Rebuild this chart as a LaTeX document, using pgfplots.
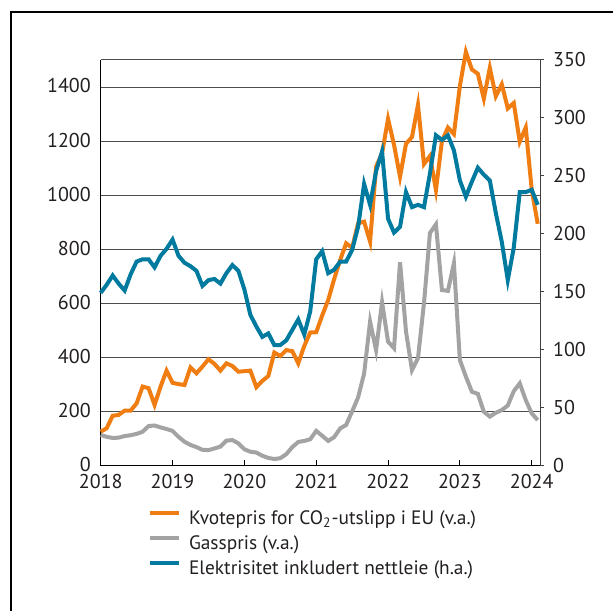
\documentclass[border=0pt]{standalone}
\usepackage{fontspec}
\setmainfont{PT Sans}
\usepackage{pgfplots}
\usepackage{pgfplotstable}
\pgfplotsset{compat=1.18}
\definecolor{co2}{RGB}{240,125,18}
\definecolor{gas}{RGB}{163,163,163}
\definecolor{el}{RGB}{0,122,158}
\definecolor{txt}{RGB}{35,31,32}
\pgfplotstableread{
m co2 gas el
0 125 113 149
1 138 106 156
2 184 102 164
3 187 103 157
4 203 109 151
5 203 112 165
6 230 117 176
7 292 125 178
8 286 146 178
9 224 148 171
10 292 141 181
11 351 135 187
12 306 128 195
13 301 106 181
14 298 88 175
15 363 76 172
16 341 68 168
17 366 58 155
18 393 57 160
19 376 63 161
20 351 70 157
21 378 92 166
22 368 94 173
23 347 82 168
24 349 60 152
25 351 51 130
26 290 48 120
27 313 36 111
28 331 28 114
29 418 24 104
30 405 27 104
31 427 42 108
32 423 68 117
33 378 87 126
34 442 91 113
35 492 97 133
36 493 128 178
37 555 110 185
38 612 91 166
39 690 105 169
40 760 137 176
41 822 150 176
42 805 200 186
43 896 252 206
44 902 340 243
45 828 532 225
46 1105 427 254
47 1155 604 271
48 1282 458 213
49 1186 434 201
50 1068 752 206
51 1190 495 236
52 1215 353 223
53 1334 397 225
54 1115 600 223
55 1145 860 252
56 1019 892 285
57 1200 649 281
58 1250 646 285
59 1226 748 272
60 1404 390 246
61 1530 329 232
62 1465 273 245
63 1449 265 257
64 1357 199 251
65 1471 181 246
66 1366 195 218
67 1410 205 193
68 1321 222 160
69 1341 275 188
70 1198 304 236
71 1250 242 236
72 1020 193 238
73 894 168 225
}\datatable
\begin{document}
\fontsize{10pt}{12pt}\selectfont
\begin{tikzpicture}
\useasboundingbox (-50.35pt,-72.25pt) rectangle (256.15pt,232.75pt);
\draw[line width=1pt,black] (-44.85pt,-90pt) -- (-44.85pt,226.5pt) -- (280pt,226.5pt);
\begin{axis}[
  at={(0pt,0pt)}, anchor=south west,
  scale only axis, width=220pt, height=202.75pt,
  xmin=0, xmax=73.5, ymin=0, ymax=1500,
  clip=false,
  axis x line*=bottom, axis y line*=left,
  axis line style={black, line width=0.6pt},
  xtick={0,12,...,72},
  xticklabels={2018,2019,2020,2021,2022,2023,2024},
  ytick={0,200,...,1400},
  extra y ticks={1500}, extra y tick labels={},
  extra y tick style={grid=major, major tick length=0pt},
  ymajorgrids,
  grid style={black!70, line width=0.5pt},
  tick align=inside, major tick length=3pt,
  xtick style={black, line width=0.5pt},
  ytick style={draw=none},
  /pgf/number format/assume math mode=true,
  /pgf/number format/1000 sep={},
  ticklabel style={font=\fontsize{10pt}{12pt}\selectfont, text=txt},
  yticklabel style={inner sep=0pt, text depth=0pt, xshift=-4.8pt, yshift=0.6pt},
  xticklabel style={inner sep=0pt, yshift=-4.4pt},
]
\addplot[gas, line width=2pt] table[x=m, y=gas] {\datatable};
\addplot[co2, line width=2pt] table[x=m, y=co2] {\datatable};
\end{axis}
\begin{axis}[
  at={(0pt,0pt)}, anchor=south west,
  scale only axis, width=220pt, height=202.75pt,
  xmin=0, xmax=73.5, ymin=0, ymax=350,
  clip=false,
  axis x line=none, axis y line*=right,
  y axis line style={black!75, line width=0.6pt},
  ytick={0,50,...,350},
  tick align=outside, major tick length=1.7pt,
  ytick style={black!75, line width=0.5pt},
  /pgf/number format/assume math mode=true,
  ticklabel style={font=\fontsize{10pt}{12pt}\selectfont, text=txt},
  yticklabel style={xshift=1pt},
  legend cell align=left,
  legend style={draw=none, fill=none, anchor=north west,
    at={(axis description cs:0.1075,-0.11)},
    font=\fontsize{9.7pt}{12pt}\selectfont, text=txt,
    row sep=3pt, inner sep=0pt,
    nodes={inner sep=0pt, text height=7pt, text depth=2.5pt}},
  legend image code/.code={\draw[#1, line width=1.8pt] (0pt,3.5pt) -- (14.5pt,3.5pt);},
]
\addlegendimage{co2}
\addlegendentry{\hspace{4pt}Kvotepris for CO\textsubscript{2}-utslipp i EU (v.a.)}
\addlegendimage{gas}
\addlegendentry{\hspace{4pt}Gasspris (v.a.)}
\addplot[el, line width=2pt] table[x=m, y=el] {\datatable};
\addlegendentry{\hspace{4pt}Elektrisitet inkludert nettleie (h.a.)}
\end{axis}
\end{tikzpicture}
\end{document}
